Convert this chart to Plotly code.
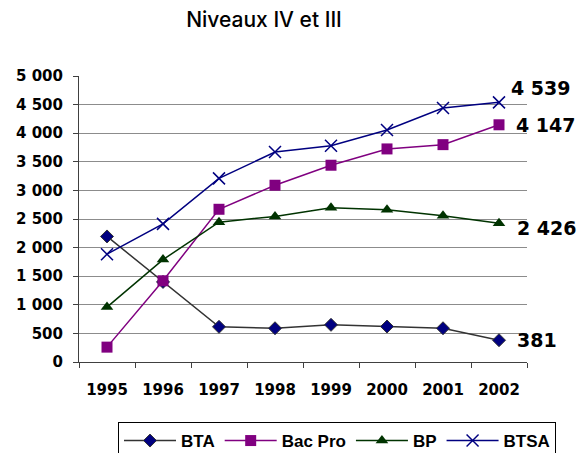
import plotly.graph_objects as go

years = ["1995", "1996", "1997", "1998", "1999", "2000", "2001", "2002"]
bta = [2195, 1400, 615, 590, 650, 620, 590, 381]
bac_pro = [260, 1420, 2670, 3090, 3440, 3725, 3800, 4147]
bp = [960, 1790, 2445, 2545, 2695, 2660, 2555, 2426]
btsa = [1885, 2415, 3210, 3670, 3780, 4055, 4440, 4539]

y_tickvals = [0, 500, 1000, 1500, 2000, 2500, 3000, 3500, 4000, 4500, 5000]
y_ticktext = ["0", "500", "1 000", "1 500", "2 000", "2 500", "3 000", "3 500", "4 000", "4 500", "5 000"]

title_text = "Niveaux IV et III"

def fmt(v):
    return f"{v:,}".replace(",", " ")

# page body has an 8px default margin: figure is sized to fit the 587x453 window
W, H = 579, 445
OFF = 8
plot_l, plot_r, plot_t, plot_b = 79 - OFF, 527 - OFF, 76 - OFF, 362 - OFF

fig = go.Figure()
series = [
    ("BTA", bta, "#333333", dict(symbol="diamond", size=10, color="#000080", line=dict(color="#333333", width=1))),
    ("Bac Pro", bac_pro, "#800080", dict(symbol="square", size=11, color="#800080")),
    ("BP", bp, "#003300", dict(symbol="triangle-up", size=11, color="#003300")),
    ("BTSA", btsa, "#000080", dict(symbol="x-thin", size=12, color="#000080", line=dict(color="#000080", width=1.5))),
]
for name, vals, lc, mk in series:
    fig.add_trace(go.Scatter(x=years, y=vals, name=name, mode="lines+markers",
                             line=dict(color=lc, width=1.5), marker=mk))

label_shifts = {"BTSA": (10, 14), "Bac Pro": (15, 0), "BP": (16, -5), "BTA": (16, 0)}
last_idx = len(years) - 1
for name, vals, lc, mk in series:
    xs, ys = label_shifts[name]
    fig.add_annotation(x=last_idx, y=vals[-1], text=fmt(vals[-1]), showarrow=False,
                       xanchor="left", yanchor="middle", xshift=xs, yshift=ys,
                       font=dict(family="DejaVu Sans", size=19, color="black", weight="bold"))

ph = plot_b - plot_t
pw = plot_r - plot_l
fig.update_layout(
    width=W, height=H,
    margin=dict(l=plot_l, r=W - plot_r, t=plot_t, b=H - plot_b, autoexpand=False),
    paper_bgcolor="white", plot_bgcolor="white",
    title=dict(text=title_text, x=(264 - OFF) / W, xanchor="center", y=1 - (20 - OFF) / H, yanchor="middle",
               font=dict(family="Inter", size=21, color="black", weight=500)),
    showlegend=True,
    legend=dict(orientation="h", x=(118 - 79) / pw, xanchor="left", y=(362 - 422) / ph, yanchor="top",
                bordercolor="black", borderwidth=1, bgcolor="white",
                font=dict(family="Liberation Sans", size=17, color="black", weight="bold"),
                itemwidth=52, tracegroupgap=0),
    xaxis=dict(type="category", range=[-0.5, 7.5], tickson="boundaries", ticks="outside", ticklen=5,
               tickcolor="#404040", showline=True, linecolor="#404040", linewidth=1, showgrid=False,
               tickfont=dict(family="DejaVu Sans", size=15, color="black", weight="bold"),
               ticklabelstandoff=14, automargin=False),
    yaxis=dict(range=[0, 5000], tickvals=y_tickvals, ticktext=y_ticktext, ticks="outside", ticklen=5,
               tickcolor="#404040", showline=True, linecolor="#404040", linewidth=1,
               showgrid=True, gridcolor="#8c8c8c", gridwidth=1, zeroline=False,
               tickfont=dict(family="DejaVu Sans", size=15, color="black", weight="bold"),
               ticklabelstandoff=7, automargin=False),
)

fig.write_html("out.html")
